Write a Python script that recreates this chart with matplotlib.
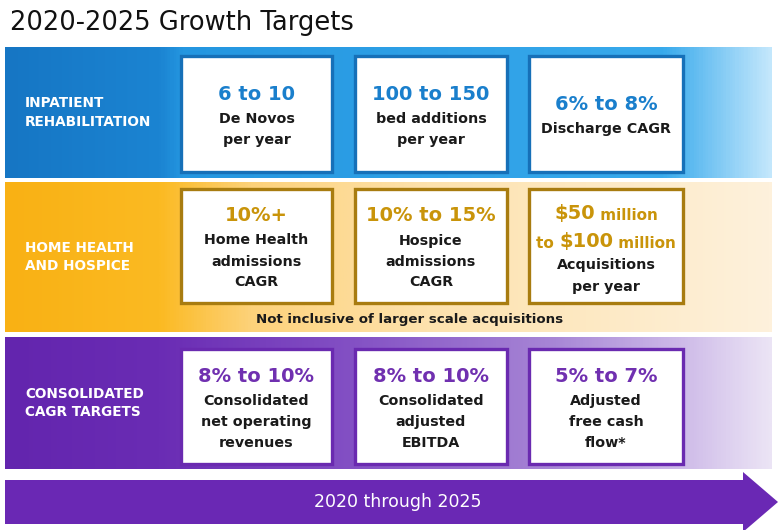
import numpy as np
import matplotlib.pyplot as plt
from matplotlib.colors import LinearSegmentedColormap
from matplotlib.patches import Rectangle, Polygon

# Datos de la lámina
titulo = "2020-2025 Growth Targets"
segmentos = ["INPATIENT\nREHABILITATION", "HOME HEALTH\nAND HOSPICE", "CONSOLIDATED\nCAGR TARGETS"]
metas = [["6 to 10", "100 to 150", "6% to 8%"],
         ["10%+", "10% to 15%", None],
         ["8% to 10%", "8% to 10%", "5% to 7%"]]
detalles = [[["De Novos", "per year"], ["bed additions", "per year"], ["Discharge CAGR"]],
            [["Home Health", "admissions", "CAGR"], ["Hospice", "admissions", "CAGR"], ["Acquisitions", "per year"]],
            [["Consolidated", "net operating", "revenues"], ["Consolidated", "adjusted", "EBITDA"],
             ["Adjusted", "free cash", "flow*"]]]
adquisiciones = [[("$50", True), (" million", False)],
                 [("to ", False), ("$100", True), (" million", False)]]
nota_hh = "Not inclusive of larger scale acquisitions"
periodo = "2020 through 2025"

# Estilos por fila
franjas = [(47, 178), (182, 332), (337, 469)]
cajas_y = [(56, 172), (189, 303), (349, 464)]
cajas_x = [(181, 332), (355, 507), (529, 683)]
color_meta = ["#1a7fcc", "#c9940a", "#7030b0"]
color_borde = ["#1670b8", "#a87c10", "#6a2ab0"]
gradientes = [
    [(0, "#1676c4"), (0.2, "#1b84d2"), (0.23, "#2496e0"), (0.86, "#38aaec"), (1, "#c3e7fc")],
    [(0, "#f9b114"), (0.2, "#fbba22"), (0.32, "#fdd27a"), (0.55, "#fde2ad"), (1, "#fef1dc")],
    [(0, "#6325ae"), (0.2, "#6a2cb4"), (0.45, "#8350c4"), (0.72, "#a887d6"), (0.88, "#cdb9e8"), (1, "#ebe4f5")],
]

fig = plt.figure(figsize=(7.83, 5.30), dpi=100)
ax = fig.add_axes([0, 0, 1, 1])
ax.set_xlim(0, 783)
ax.set_ylim(530, 0)
ax.axis('off')
renderer = fig.canvas.get_renderer()

ax.text(10, 23, titulo, fontsize=18.5, color="#111111", va='center', ha='left')

grad = np.linspace(0, 1, 600)[None, :]
for i in range(3):
    y0, y1 = franjas[i]
    cmap = LinearSegmentedColormap.from_list(f"g{i}", gradientes[i])
    ax.imshow(grad, extent=(5, 772, y1, y0), aspect='auto', cmap=cmap, zorder=1)
    ax.text(25, (y0 + y1) / 2, segmentos[i], color="white", fontsize=9.8, fontweight='bold',
            va='center', ha='left', linespacing=1.45, zorder=3)

    for j in range(3):
        x0, x1 = cajas_x[j]
        b0, b1 = cajas_y[i]
        ax.add_patch(Rectangle((x0 + 2, b0 + 2), x1 - x0, b1 - b0, facecolor="black", alpha=0.18,
                               edgecolor='none', zorder=2))
        ax.add_patch(Rectangle((x0, b0), x1 - x0, b1 - b0, facecolor="white", edgecolor=color_borde[i],
                               linewidth=2.4, zorder=3))
        cx = (x0 + x1) / 2
        lineas = detalles[i][j]
        if metas[i][j] is None:
            # caja con texto de tamaños mezclados
            alto = 28 * (len(adquisiciones) - 1) + 24 + 21 * (len(lineas) - 1)
            y = (b0 + b1) / 2 + 4 - alto / 2
            for partes in adquisiciones:
                textos = []
                for txt, grande in partes:
                    t = ax.text(0, y, txt, fontsize=14 if grande else 11, fontweight='bold',
                                color=color_meta[i], va='baseline', ha='left', zorder=4)
                    textos.append(t)
                anchos = [t.get_window_extent(renderer).width for t in textos]
                xs = cx - sum(anchos) / 2
                for t, w in zip(textos, anchos):
                    t.set_position((xs, y + 6))
                    xs += w
                y += 28
            y = y - 28 + 24
        else:
            alto = 25 + 21 * (len(lineas) - 1)
            y = (b0 + b1) / 2 + 3 - alto / 2
            ax.text(cx, y, metas[i][j], fontsize=14, fontweight='bold', color=color_meta[i],
                    va='center', ha='center', zorder=4)
            y += 25
        for linea in lineas:
            ax.text(cx, y, linea, fontsize=10.3, fontweight='bold', color="#1a1a1a",
                    va='center', ha='center', zorder=4)
            y += 21

ax.text(410, 320, nota_hh, fontsize=9.6, fontweight='bold', color="#1a1a1a", va='center', ha='center', zorder=4)

# Flecha de periodo
flecha = Polygon([(5, 480), (743, 480), (743, 472), (778, 502), (743, 532), (743, 524), (5, 524)],
                 closed=True, facecolor="#6a28b4", edgecolor='none', zorder=2)
ax.add_patch(flecha)
ax.text(398, 502, periodo, fontsize=12.5, color="white", va='center', ha='center', zorder=3)

fig.savefig("out.png", dpi=100)
